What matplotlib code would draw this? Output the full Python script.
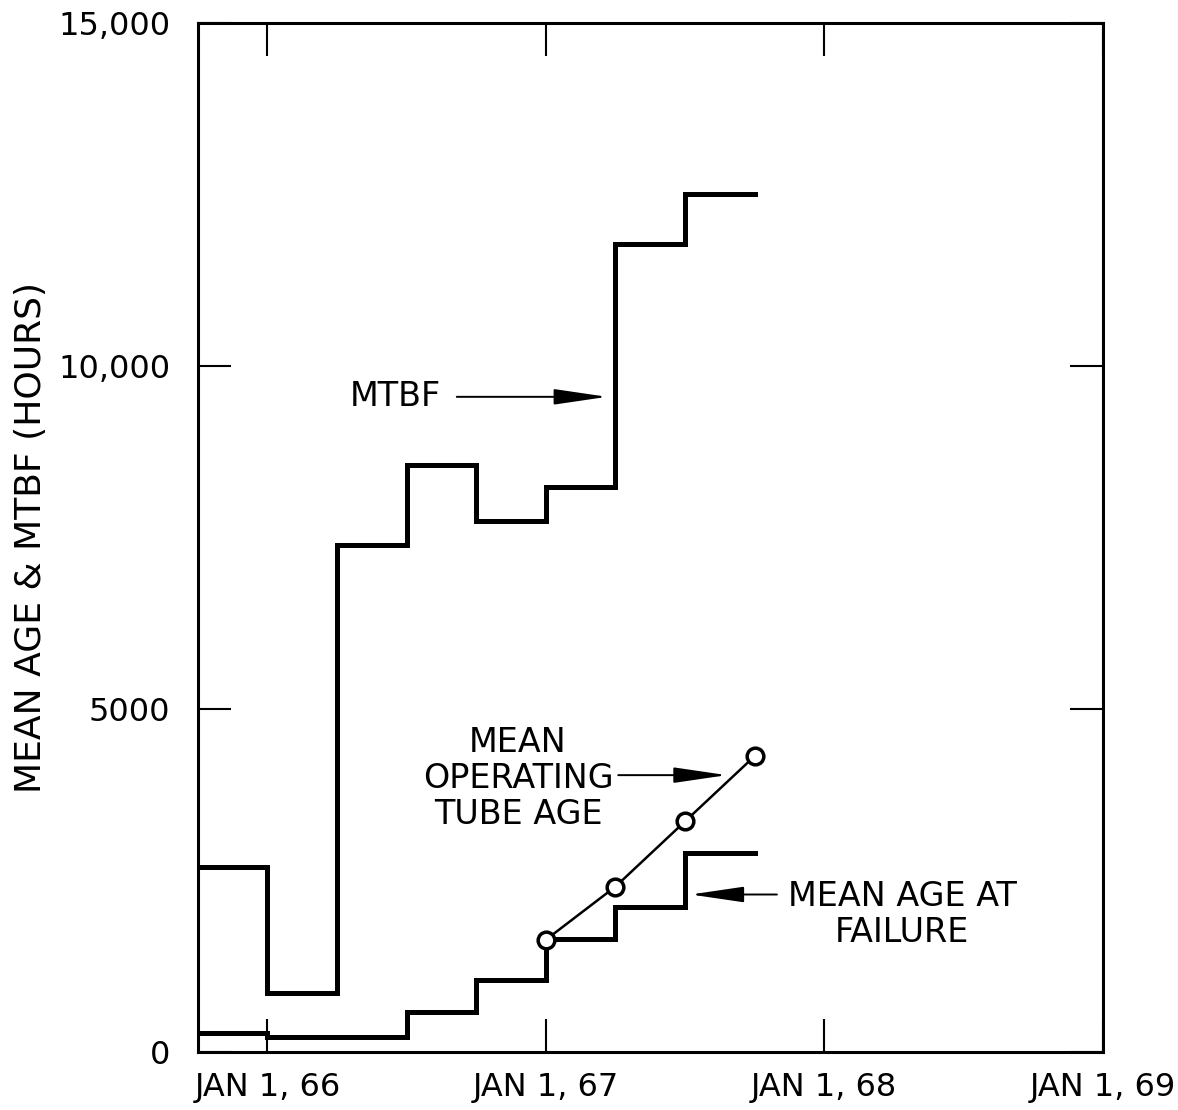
import matplotlib
matplotlib.use("Agg")
import matplotlib.pyplot as plt
import numpy as np

# ---------------------------------------------------------------------------
# Data (x in fractional years, 66.0 = Jan 1 1966)
# ---------------------------------------------------------------------------
QUARTERS = [65.75, 66.0, 66.25, 66.5, 66.75, 67.0, 67.25, 67.5, 67.75]

MTBF = [2700, 860, 7390, 8560, 7740, 8240, 11790, 12510]
AGE_AT_FAILURE = [280, 220, 220, 585, 1050, 1650, 2120, 2910]

TUBE_AGE_X = [67.0, 67.25, 67.5, 67.75]
TUBE_AGE = [1640, 2415, 3366, 4317]

YEAR_TICKS = [66, 67, 68, 69]
YEAR_LABELS = ["JAN 1, 66", "JAN 1, 67", "JAN 1, 68", "JAN 1, 69"]
HOUR_TICKS = [0, 5000, 10000, 15000]
HOUR_LABELS = ["0", "5000", "10,000", "15,000"]

# ---------------------------------------------------------------------------
# Plot
# ---------------------------------------------------------------------------
plt.rcParams["font.family"] = ["DejaVu Sans"]
FS_TICK = 23
FS = 24

fig = plt.figure(figsize=(11.78, 11.10), dpi=100)
ax = fig.add_axes([0.168, 0.052, 0.768, 0.927])

x = np.array(QUARTERS)
ax.step(x, MTBF + [MTBF[-1]], where="post", color="black", lw=3.6,
        solid_joinstyle="miter")
ax.step(x, AGE_AT_FAILURE + [AGE_AT_FAILURE[-1]], where="post",
        color="black", lw=3.6, solid_joinstyle="miter")
ax.plot(TUBE_AGE_X, TUBE_AGE, color="black", lw=1.8, marker="o", ms=12,
        mfc="white", mec="black", mew=2.5)

ax.set_xlim(65.75, 69)
ax.set_ylim(0, 15000)
ax.set_xticks(YEAR_TICKS)
ax.set_xticklabels(YEAR_LABELS, fontsize=FS_TICK)
ax.set_yticks(HOUR_TICKS)
ax.set_yticklabels(HOUR_LABELS, fontsize=FS_TICK)
ax.tick_params(direction="in", length=24, width=1.5, top=True, right=True)
ax.tick_params(axis="y", pad=20)
ax.tick_params(axis="x", pad=14)
for s in ax.spines.values():
    s.set_linewidth(2.2)

fig.text(31 / 1178, 1 - 538 / 1110, "MEAN AGE & MTBF (HOURS)", fontsize=26,
         rotation=90, ha="center", va="center")

arrow = dict(arrowstyle="-|>,head_length=1.5,head_width=0.22", color="black",
             lw=1.4, shrinkA=0, shrinkB=0, mutation_scale=22)

ax.text(66.46, 9555, "MTBF", fontsize=FS, ha="center", va="center")
ax.annotate("", xy=(67.22, 9555), xytext=(66.68, 9555), arrowprops=arrow)

ax.text(66.9, 3990, "MEAN\nOPERATING\nTUBE AGE", fontsize=FS, ha="center",
        va="center", linespacing=1.12)
ax.annotate("", xy=(67.65, 4040), xytext=(67.26, 4040), arrowprops=arrow)

ax.text(68.28, 2005, "MEAN AGE AT\nFAILURE", fontsize=FS, ha="center",
        va="center", linespacing=1.12)
ax.annotate("", xy=(67.52, 2300), xytext=(67.83, 2300), arrowprops=arrow)

fig.savefig("out.png", dpi=100)
